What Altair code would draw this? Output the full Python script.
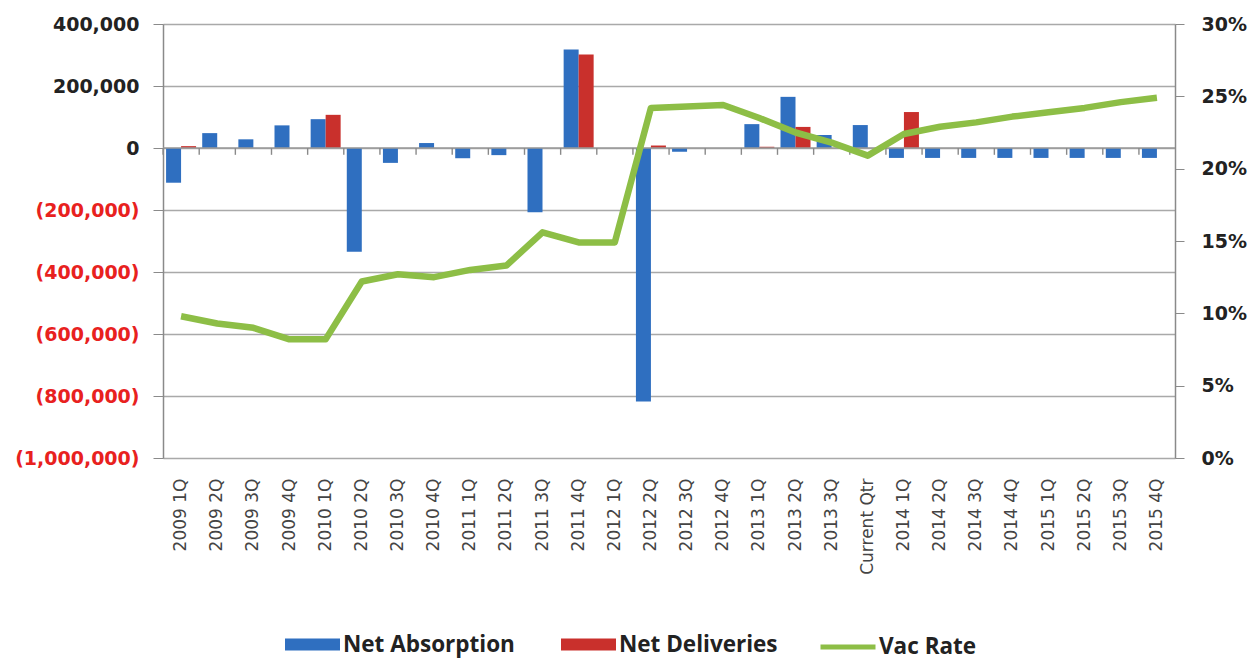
import altair as alt
import pandas as pd

categories = ["2009 1Q", "2009 2Q", "2009 3Q", "2009 4Q",
              "2010 1Q", "2010 2Q", "2010 3Q", "2010 4Q",
              "2011 1Q", "2011 2Q", "2011 3Q", "2011 4Q",
              "2012 1Q", "2012 2Q", "2012 3Q", "2012 4Q",
              "2013 1Q", "2013 2Q", "2013 3Q", "Current Qtr",
              "2014 1Q", "2014 2Q", "2014 3Q", "2014 4Q",
              "2015 1Q", "2015 2Q", "2015 3Q", "2015 4Q"]
net_absorption = [-112000, 48000, 28000, 73000, 93000, -335000, -48000, 16000,
                  -33000, -23000, -207000, 318000, 0, -818000, -12000, 0,
                  77000, 165000, 42000, 74000, -32000, -32000, -32000, -32000,
                  -32000, -32000, -32000, -32000]
net_deliveries = [6000, 0, 0, 0, 107000, 0, 0, 0,
                  0, 0, 0, 302000, 0, 8000, 0, 0,
                  4000, 68000, 0, 0, 116000, 0, 0, 0,
                  0, 0, 0, 0]
vac_rate = [9.8, 9.3, 9.0, 8.2, 8.2, 12.2, 12.7, 12.5, 13.0, 13.3, 15.6, 14.9,
            14.9, 24.2, 24.3, 24.4, 23.5, 22.5, 21.8, 20.9, 22.4, 22.9, 23.2,
            23.6, 23.9, 24.2, 24.6, 24.9]
series_names = ["Net Absorption", "Net Deliveries"]
left_ticks = [-1000000, -800000, -600000, -400000, -200000, 0, 200000, 400000]
right_ticks = [0, 5, 10, 15, 20, 25, 30]

bar_rows = []
for c, a, d in zip(categories, net_absorption, net_deliveries):
    bar_rows.append({"cat": c, "series": series_names[0], "value": a})
    bar_rows.append({"cat": c, "series": series_names[1], "value": d})
bar_df = pd.DataFrame(bar_rows)
line_df = pd.DataFrame({"cat": categories, "vac": vac_rate, "name": "Vac Rate"})
zero_df = pd.DataFrame({"zero": [0]})

x_enc = alt.X("cat:N", sort=categories,
              scale=alt.Scale(paddingInner=0.17, paddingOuter=0.085),
              axis=alt.Axis(title=None, labelAngle=-90, domain=False, ticks=False,
                            labelPadding=20, labelFont="DejaVu Sans", labelFontSize=17,
                            labelColor="#444444"))

bars = alt.Chart(bar_df).mark_bar().encode(
    x=x_enc,
    xOffset=alt.XOffset("series:N", sort=series_names),
    y=alt.Y("value:Q",
            scale=alt.Scale(domain=[-1000000, 400000], nice=False, zero=False),
            axis=alt.Axis(title=None, values=left_ticks,
                          labelExpr="datum.value < 0 ? '(' + format(-datum.value, ',') + ')' : format(datum.value, ',')",
                          labelColor={"condition": {"test": "datum.value < 0", "value": "#E8211E"}, "value": "#222222"},
                          labelFont="DejaVu Sans", labelFontSize=19, labelFontWeight="bold",
                          labelPadding=14, tickSize=10, tickColor="#8a8a8a", domainColor="#8a8a8a",
                          domainWidth=1.5, gridColor="#a9a9a9", gridWidth=1.6)),
    color=alt.Color("series:N", sort=series_names,
                    scale=alt.Scale(domain=series_names, range=["#2F6FC0", "#C9302C"]),
                    legend=alt.Legend(title=None, orient="none", direction="horizontal",
                                      legendX=122, legendY=593,
                                      symbolType="M-1,-0.22H1V0.22H-1Z", symbolSize=3025,
                                      symbolStrokeWidth=0, labelFont="Open Sans",
                                      labelFontSize=22.5, labelFontWeight="bold", labelLimit=400,
                                      labelColor="#222222", labelOffset=3, columnPadding=46)),
)

zero_rule = alt.Chart(zero_df).mark_rule(color="#9a9a9a", strokeWidth=1.6).encode(
    y=alt.Y("zero:Q")
)

zero_ticks = alt.Chart(line_df).mark_rule(color="#8a8a8a", strokeWidth=1.4, xOffset=-3).encode(
    x=alt.X("cat:N", sort=categories, bandPosition=0),
    y=alt.datum(0),
    y2=alt.datum(-22000),
)

line = alt.Chart(line_df).mark_line(strokeWidth=6.5, strokeJoin="round").encode(
    x=alt.X("cat:N", sort=categories),
    y=alt.Y("vac:Q", scale=alt.Scale(domain=[0, 30], nice=False),
            axis=alt.Axis(title=None, orient="right", values=right_ticks, grid=False,
                          labelExpr="datum.value + '%'", labelFont="DejaVu Sans",
                          labelFontSize=19, labelFontWeight="bold", labelColor="#222222",
                          labelPadding=17, tickSize=9, tickColor="#8a8a8a",
                          domainColor="#8a8a8a", domainWidth=1.5)),
    stroke=alt.Stroke("name:N", scale=alt.Scale(domain=["Vac Rate"], range=["#8DBE46"]),
                      legend=alt.Legend(title=None, orient="none", legendX=655, legendY=593,
                                        symbolType="stroke", symbolSize=3025,
                                        symbolStrokeWidth=5, labelFont="Open Sans",
                                        labelFontSize=22.5, labelFontWeight="bold", labelLimit=400,
                                        labelColor="#222222", labelOffset=1)),
)

chart = alt.layer(alt.layer(bars, zero_rule, zero_ticks), line).resolve_scale(
    y="independent", color="independent"
).properties(
    width=1012, height=434,
    autosize=alt.AutoSizeParams(type="none"),
    padding={"left": 163, "top": 24, "right": 85, "bottom": 204},
).configure_view(stroke=None).configure(background="white")

chart.save("out.html", embed_options={"renderer": "svg", "actions": False})
